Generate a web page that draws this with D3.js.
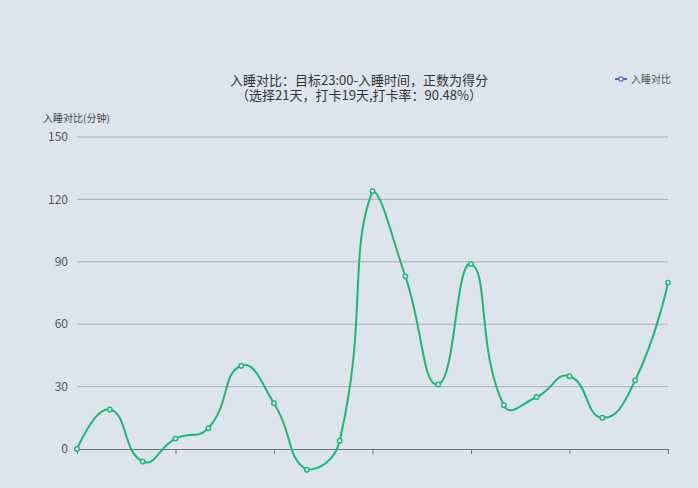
<!DOCTYPE html>
<html><head><meta charset="utf-8">
<script src="https://cdn.jsdelivr.net/npm/d3@7"></script>
<style>
html,body{margin:0;padding:0;background:#dde4ec;}
svg{display:block;font-family:"Noto Sans CJK SC","Noto Sans",sans-serif;}
</style></head>
<body><svg id="c" width="698" height="488"></svg>
<script>
const titleLines = ["入睡对比：目标23:00-入睡时间，正数为得分", "（选择21天，打卡19天,打卡率：90.48%）"];
const seriesName = "入睡对比";
const yAxisName = "入睡对比(分钟)";
const categories = d3.range(19).map(i => "第" + (i + 1) + "天");
const values = [0, 19, -6, 5, 10, 40, 22, -10, 4, 124, 83, 31, 89, 21, 25, 35, 15, 33, 80];
const yTicks = [0, 30, 60, 90, 120, 150];
const xTickEvery = 3;

const svg = d3.select("#c");
const x = d3.scalePoint().domain(categories).range([77, 668]);
const y = d3.scaleLinear().domain([-30, 150]).range([511.4, 137]);

// grid lines
svg.append("g").selectAll("line").data(yTicks.filter(d => d !== 0)).join("line")
  .attr("x1", 77).attr("x2", 668).attr("y1", d => y(d)).attr("y2", d => y(d))
  .attr("stroke", "#aab0b6").attr("stroke-width", 1);

// y labels
svg.append("g").selectAll("text").data(yTicks).join("text")
  .attr("x", 68).attr("y", d => y(d)).attr("dy", "0.35em")
  .attr("text-anchor", "end").attr("font-size", 12).attr("fill", "#555")
  .text(d => d);

svg.append("text").attr("x", 43).attr("y", 122).attr("font-size", 10).attr("fill", "#444").text(yAxisName);

// x axis
const xAxis = d3.axisBottom(x)
  .tickValues(categories.filter((d, i) => i % xTickEvery === 0))
  .tickFormat("").tickSize(5).tickSizeOuter(0);
const gx = svg.append("g").attr("transform", `translate(0,${y(0)})`).call(xAxis);
gx.select(".domain").attr("stroke", "#6e7379");
gx.selectAll(".tick line").attr("stroke", "#6e7379");

// smooth line (echarts-like bezier)
const pts = values.map((v, i) => [x(categories[i]), y(v)]);
const minX = d3.min(pts, p => p[0]), maxX = d3.max(pts, p => p[0]);
const minY = d3.min(pts, p => p[1]), maxY = d3.max(pts, p => p[1]);
const clampP = p => [Math.max(minX, Math.min(maxX, p[0])), Math.max(minY, Math.min(maxY, p[1]))];
const smooth = 0.5;
const path = d3.path();
path.moveTo(pts[0][0], pts[0][1]);
let cp0 = pts[0].slice();
for (let i = 1; i < pts.length; i++) {
  const p = pts[i], prev = pts[i - 1], next = pts[i + 1];
  let cp1, nextCp0;
  if (!next) { cp1 = p.slice(); nextCp0 = p.slice(); }
  else {
    const vx = next[0] - prev[0], vy = next[1] - prev[1];
    const d0 = Math.hypot(p[0] - prev[0], p[1] - prev[1]);
    const d1 = Math.hypot(next[0] - p[0], next[1] - p[1]);
    const r = d1 / (d0 + d1);
    cp1 = [p[0] - vx * smooth * (1 - r), p[1] - vy * smooth * (1 - r)];
    nextCp0 = [p[0] + vx * smooth * r, p[1] + vy * smooth * r];
  }
  const a = clampP(cp0), b = clampP(cp1);
  path.bezierCurveTo(a[0], a[1], b[0], b[1], p[0], p[1]);
  cp0 = nextCp0;
}
svg.append("path").attr("d", path.toString()).attr("fill", "none")
  .attr("stroke", "#17b978").attr("stroke-width", 2);

svg.append("g").selectAll("circle").data(values).join("circle")
  .attr("cx", (d, i) => x(categories[i])).attr("cy", d => y(d)).attr("r", 2.2)
  .attr("fill", "#fff").attr("stroke", "#17b978").attr("stroke-width", 1.5);

// title (one text element, two lines)
const title = svg.append("text").attr("text-anchor", "middle")
  .attr("font-size", 13).attr("fill", "#333");
title.selectAll("tspan").data(titleLines).join("tspan")
  .attr("x", 359).attr("y", (d, i) => 85 + i * 15).text(d => d);

// legend
const lg = svg.append("g");
lg.append("line").attr("x1", 615).attr("x2", 627).attr("y1", 79).attr("y2", 79).attr("stroke", "#4f66c4").attr("stroke-width", 2);
lg.append("circle").attr("cx", 621).attr("cy", 79).attr("r", 2.2).attr("fill", "#fff").attr("stroke", "#4f66c4").attr("stroke-width", 1.2);
lg.append("text").attr("x", 631).attr("y", 79).attr("dy", "0.35em").attr("font-size", 10).attr("fill", "#555").text(seriesName);
</script></body></html>
